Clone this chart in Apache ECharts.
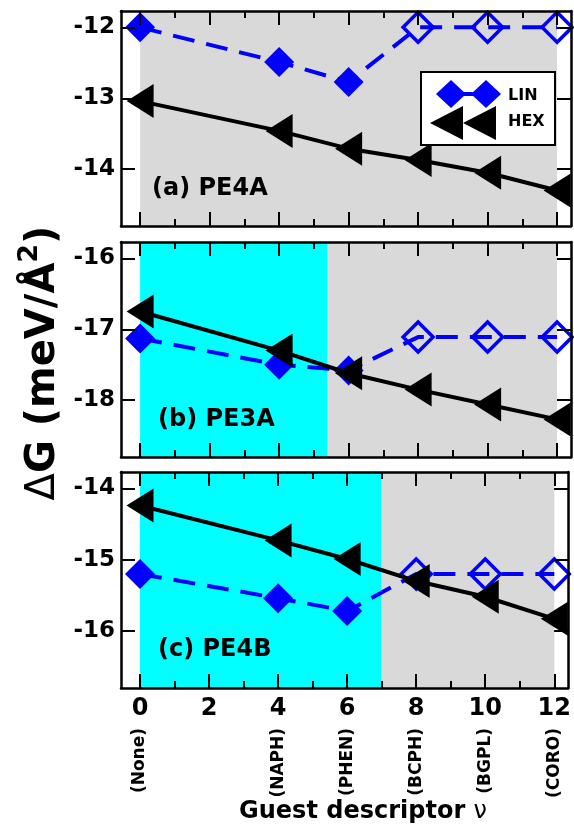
<!DOCTYPE html>
<html>
<head>
<meta charset="utf-8">
<script src="https://cdn.jsdelivr.net/npm/echarts@6/dist/echarts.min.js"></script>
<style>
  html, body { margin: 0; padding: 0; background: #fff; }
  #chart { width: 574px; height: 837px; }
</style>
</head>
<body>
<div id="chart"></div>
<script>
// Guest descriptor values and the molecules they stand for
const guestX = [0, 4, 6, 8, 10, 12];
const guestNames = ['(None)', '(NAPH)', '(PHEN)', '(BCPH)', '(BGPL)', '(CORO)'];
const xTicks = [0, 2, 4, 6, 8, 10, 12];
const xMinorTicks = [1, 3, 5, 7, 9, 11];
const xRange = [-0.55, 12.4];

// LIN points from BCPH onwards are open symbols
const linOpen = [false, false, false, true, true, true];

// (a) PE4A
const linA = [-12.0, -12.49, -12.77, -12.0, -12.0, -12.0];
const hexA = [-13.04, -13.46, -13.71, -13.87, -14.05, -14.3];
const yTicksA = [-14, -13, -12];
const yRangeA = [-14.8, -11.77];
const cyanA = null;
const grayA = [0, 12];

// (b) PE3A
const linB = [-17.13, -17.5, -17.58, -17.11, -17.11, -17.11];
const hexB = [-16.75, -17.3, -17.62, -17.85, -18.06, -18.27];
const yTicksB = [-18, -17, -16];
const yRangeB = [-18.8, -15.77];
const cyanB = [0, 5.4];
const grayB = [5.4, 12];

// (c) PE4B
const linC = [-15.2, -15.54, -15.72, -15.2, -15.2, -15.2];
const hexC = [-14.24, -14.73, -14.99, -15.3, -15.52, -15.83];
const yTicksC = [-16, -15, -14];
const yRangeC = [-16.8, -13.77];
const cyanC = [0, 7];
const grayC = [7, 12];

const panelLabels = ['(a) PE4A', '(b) PE3A', '(c) PE4B'];

const panels = [
  { lin: linA, hex: hexA, yTicks: yTicksA, yRange: yRangeA, cyan: cyanA, gray: grayA, label: panelLabels[0] },
  { lin: linB, hex: hexB, yTicks: yTicksB, yRange: yRangeB, cyan: cyanB, gray: grayB, label: panelLabels[1] },
  { lin: linC, hex: hexC, yTicks: yTicksC, yRange: yRangeC, cyan: cyanC, gray: grayC, label: panelLabels[2] }
];

const FONT = '"DejaVu Sans", Verdana, sans-serif';
const BLUE = '#0000ff';
const CYAN = '#00ffff';
const GRAY = '#d9d9d9';
const gridBoxes = [
  { top: 11, height: 215 },
  { top: 242, height: 215 },
  { top: 472, height: 216 }
];

const grids = [], xAxes = [], yAxes = [], series = [], graphics = [];

function frameXAxis(gi, position, values, len, showLine, labels) {
  return {
    type: 'value', gridIndex: gi, position: position,
    min: xRange[0], max: xRange[1], z: 10,
    axisLine: { show: showLine, onZero: false, lineStyle: { color: '#000', width: 2.5 } },
    axisTick: { show: true, inside: true, length: len, customValues: values, lineStyle: { color: '#000', width: 2 } },
    axisLabel: labels ? {
      show: true, customValues: xTicks, margin: 9,
      color: '#000', fontFamily: FONT, fontWeight: 'bold', fontSize: 24
    } : { show: false },
    splitLine: { show: false }
  };
}

panels.forEach((p, gi) => {
  grids.push({ left: 121, right: 3, top: gridBoxes[gi].top, height: gridBoxes[gi].height, containLabel: false });
  const last = gi === panels.length - 1;
  const xMain = xAxes.length;
  xAxes.push(frameXAxis(gi, 'bottom', xTicks, 14, true, last));
  xAxes.push(frameXAxis(gi, 'bottom', xMinorTicks, 7, false, false));
  xAxes.push(frameXAxis(gi, 'top', xTicks, 14, true, false));
  xAxes.push(frameXAxis(gi, 'top', xMinorTicks, 7, false, false));
  if (last) {
    xAxes.push({
      type: 'value', gridIndex: gi, position: 'bottom',
      min: xRange[0], max: xRange[1],
      axisLine: { show: false }, axisTick: { show: false }, splitLine: { show: false },
      axisLabel: {
        show: true, customValues: guestX, rotate: 90, margin: 40,
        formatter: v => guestNames[guestX.indexOf(v)],
        color: '#000', fontFamily: FONT, fontWeight: 'bold', fontSize: 17
      }
    });
  }
  const yMain = yAxes.length;
  [['left', true], ['right', false]].forEach(([pos, lab]) => {
    yAxes.push({
      type: 'value', gridIndex: gi, position: pos,
      min: p.yRange[0], max: p.yRange[1], z: 10,
      axisLine: { show: true, onZero: false, lineStyle: { color: '#000', width: 2.5 } },
      axisTick: { show: true, inside: true, length: 14, customValues: p.yTicks, lineStyle: { color: '#000', width: 2 } },
      axisLabel: lab ? {
        show: true, customValues: p.yTicks, margin: 6,
        color: '#000', fontFamily: FONT, fontWeight: 'bold', fontSize: 23
      } : { show: false },
      splitLine: { show: false }
    });
  });

  const areas = [];
  if (p.cyan) areas.push([{ xAxis: p.cyan[0], itemStyle: { color: CYAN } }, { xAxis: p.cyan[1] }]);
  if (p.gray) areas.push([{ xAxis: p.gray[0], itemStyle: { color: GRAY } }, { xAxis: p.gray[1] }]);

  series.push({
    name: 'LIN', type: 'line', xAxisIndex: xMain, yAxisIndex: yMain, z: 3,
    data: guestX.map((x, i) => ({
      value: [x, p.lin[i]],
      itemStyle: linOpen[i]
        ? { color: 'rgba(0,0,0,0)', borderColor: BLUE, borderWidth: 3.5 }
        : { color: BLUE, borderWidth: 0 }
    })),
    symbol: 'diamond', symbolSize: [30, 30],
    lineStyle: { color: BLUE, width: 4, type: [22, 12] },
    itemStyle: { color: BLUE },
    animation: false,
    markArea: { silent: true, z: 1, data: areas }
  });
  series.push({
    name: 'HEX', type: 'line', xAxisIndex: xMain, yAxisIndex: yMain, z: 4,
    data: guestX.map((x, i) => [x, p.hex[i]]),
    symbol: 'triangle', symbolRotate: 90, symbolSize: [34, 27],
    lineStyle: { color: '#000', width: 4 },
    itemStyle: { color: '#000' },
    animation: false
  });

  graphics.push({
    type: 'text', left: gi === 0 ? 152 : 158, top: gridBoxes[gi].top + 166, z: 20,
    style: { text: p.label, fill: '#000', font: 'bold 24px ' + FONT }
  });
});

// Legend box in panel (a)
const LZ = 40;
graphics.push(
  { type: 'rect', z: LZ, shape: { x: 421, y: 72, width: 134, height: 73 },
    style: { fill: '#fff', stroke: '#000', lineWidth: 2 } },
  { type: 'line', z: LZ + 1, shape: { x1: 451, y1: 94, x2: 486, y2: 94 }, style: { stroke: BLUE, lineWidth: 4 } },
  { type: 'polygon', z: LZ + 1, shape: { points: [[436, 94], [451, 80], [466, 94], [451, 108]] }, style: { fill: BLUE } },
  { type: 'polygon', z: LZ + 1, shape: { points: [[471, 94], [486, 80], [501, 94], [486, 108]] }, style: { fill: BLUE } },
  { type: 'polygon', z: LZ + 2, shape: { points: [[430, 123], [463, 106], [463, 140]] }, style: { fill: '#000' } },
  { type: 'polygon', z: LZ + 2, shape: { points: [[463, 123], [496, 106], [496, 140]] }, style: { fill: '#000' } },
  { type: 'text', z: LZ + 2, x: 508, y: 96, style: { text: 'LIN', fill: '#000', font: 'bold 16px ' + FONT, verticalAlign: 'middle' } },
  { type: 'text', z: LZ + 2, x: 508, y: 122, style: { text: 'HEX', fill: '#000', font: 'bold 16px ' + FONT, verticalAlign: 'middle' } }
);

// Shared axis titles
graphics.push({
  type: 'text', x: 40, y: 363, rotation: Math.PI / 2, z: 20,
  style: {
    text: '{d|Δ}{b|G (meV/Å}{s|2}{b|)}',
    align: 'center', verticalAlign: 'middle',
    rich: {
      d: { fontFamily: FONT, fontSize: 40, fontWeight: 'normal', fill: '#000', lineHeight: 48, verticalAlign: 'bottom' },
      b: { fontFamily: FONT, fontSize: 40, fontWeight: 'bold', fill: '#000', lineHeight: 48, verticalAlign: 'bottom' },
      s: { fontFamily: FONT, fontSize: 27, fontWeight: 'bold', fill: '#000', lineHeight: 48, verticalAlign: 'top' }
    }
  }
});
graphics.push({
  type: 'text', x: 363, y: 812, z: 20,
  style: {
    text: '{b|Guest descriptor }{n|ν}',
    align: 'center', verticalAlign: 'middle',
    rich: {
      b: { fontFamily: FONT, fontSize: 24, fontWeight: 'bold', fill: '#000' },
      n: { fontFamily: FONT, fontSize: 24, fontWeight: 'normal', fill: '#000' }
    }
  }
});

const chart = echarts.init(document.getElementById('chart'), null, { renderer: 'canvas' });
chart.setOption({
  animation: false,
  backgroundColor: '#fff',
  grid: grids,
  xAxis: xAxes,
  yAxis: yAxes,
  series: series,
  graphic: graphics
});
</script>
</body>
</html>
